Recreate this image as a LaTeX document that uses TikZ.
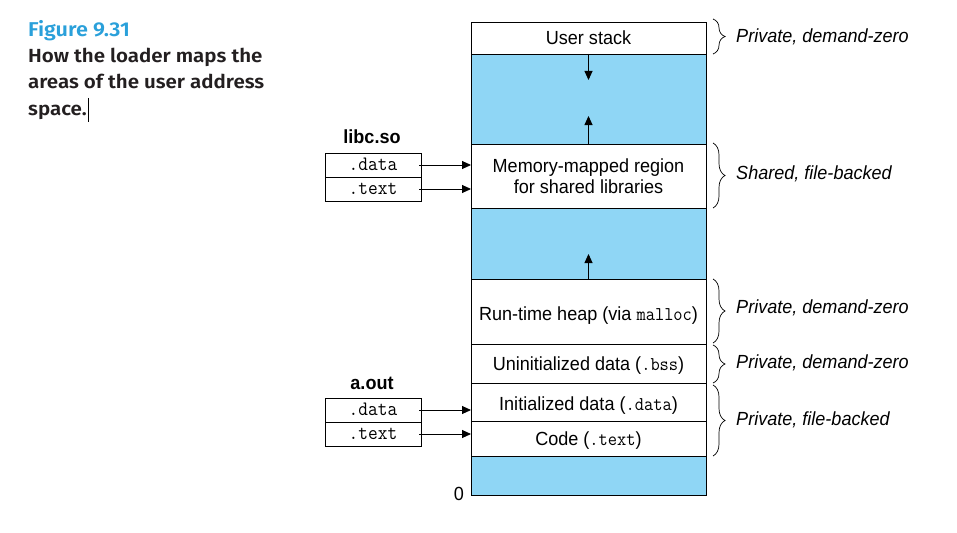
\documentclass[tikz,border=0pt]{standalone}
\usepackage{fontspec}
\setmainfont{Liberation Sans}[FakeStretch=0.95]
\setmonofont{Latin Modern Mono}[FakeStretch=0.92]
\newfontfamily\capfont{Fira Sans SemiBold}[FakeStretch=1.08]
\usetikzlibrary{arrows.meta,decorations.pathreplacing}
\definecolor{areablue}{HTML}{8FD6F5}
\definecolor{figblue}{HTML}{2AA0DA}
\definecolor{captext}{HTML}{231F20}
\newcommand{\lbl}{\fontsize{19}{21}\selectfont}
\newcommand{\mono}[1]{{\ttfamily\fontsize{19.5}{21}\selectfont #1}}
\newcommand{\boxmono}[1]{{\ttfamily\fontsize{20.5}{21}\selectfont #1}}
\begin{document}
\begin{tikzpicture}[x=1pt,y=-1pt,
  seg/.style={draw, line width=0.9pt, minimum width=235pt, inner sep=0pt, outer sep=0pt, anchor=north west, font=\lbl, align=center, text height=13.6pt, text depth=0pt},
  lowtext/.style={text height=17.6pt},
  freearea/.style={seg, fill=areablue},
  secbox/.style={draw, line width=0.9pt, minimum width=96pt, minimum height=24pt, inner sep=0pt, outer sep=0pt, anchor=north west, text height=10pt, text depth=0pt},
  arr/.style={line width=0.9pt, -{Triangle[length=9pt,width=8pt]}},
  brc/.style={decorate, decoration={brace, amplitude=12pt}, line width=0.7pt},
  note/.style={anchor=west, font=\lbl\itshape, inner sep=0pt},
  capline/.style={anchor=base west, inner sep=0pt, font=\capfont\fontsize{19}{26}\selectfont}
]
\useasboundingbox (0,0) rectangle (957,532);

% caption
\node[capline, text=figblue, font=\capfont\fontsize{20}{26}\selectfont] (cap1) at (28,37) {Figure 9.31};
\node[capline, text=captext] (cap2) at (28,63) {How the loader maps the};
\node[capline, text=captext] (cap3) at (28,89) {areas of the user address};
\node[capline, text=captext] (cap4) at (28,115) {space.};
\draw[line width=0.8pt] ([xshift=1pt]cap4.base east) ++(0,-17) -- ++(0,24);

% address space column
\node[seg, minimum height=32pt] (stack) at (471,22) {User stack};
\node[freearea, minimum height=90pt] (blue1) at (471,54) {};
\node[seg, minimum height=64pt, text height={}, text depth=0.5pt] (mmap) at (471,144) {Memory-mapped region\\for shared libraries};
\node[freearea, minimum height=71pt] (blue2) at (471,208) {};
\node[seg, lowtext, minimum height=65pt] (heap) at (471,279) {Run-time heap (via \mono{malloc})};
\node[seg, minimum height=39pt] (bss) at (471,344) {Uninitialized data (\mono{.bss})};
\node[seg, lowtext, minimum height=38pt] (init) at (471,383) {Initialized data (\mono{.data})};
\node[seg, minimum height=35pt] (code) at (471,421) {Code (\mono{.text})};
\node[freearea, minimum height=39pt] (blue3) at (471,456) {};
\node[font=\lbl, inner sep=0pt] (zero) at (459,494) {0};

% growth arrows
\coordinate (stackgrow) at (588.5,80);
\coordinate (mmapgrow) at (588.5,116);
\coordinate (heapgrow) at (588.5,254);
\draw[arr] (stack.south) -- (stackgrow);
\draw[arr] (mmap.north) -- (mmapgrow);
\draw[arr] (heap.north) -- (heapgrow);

% libc.so
\node[font=\lbl\bfseries] (libc) at (372,137) {libc.so};
\node[secbox] (ldata) at (325,153) {\boxmono{.data}};
\node[secbox] (ltext) at (325,177) {\boxmono{.text}};
\draw[arr] ([xshift=-2pt]ldata.east) -- (mmap.west |- ldata.east);
\draw[arr] ([xshift=-2pt]ltext.east) -- (mmap.west |- ltext.east);

% a.out
\node[font=\lbl\bfseries] (aout) at (372,383) {a.out};
\node[secbox] (adata) at (325,398) {\boxmono{.data}};
\node[secbox] (atext) at (325,422) {\boxmono{.text}};
\draw[arr] ([xshift=-2pt]adata.east) -- (init.west |- adata.east);
\draw[arr] ([xshift=-2pt]atext.east) -- (code.west |- atext.east);

% braces and notes
\coordinate (b1t) at (713,19);  \coordinate (b1b) at (713,54);
\coordinate (b2t) at (713,143); \coordinate (b2b) at (713,208);
\coordinate (b3t) at (713,279); \coordinate (b3b) at (713,343);
\coordinate (b4t) at (713,345); \coordinate (b4b) at (713,383);
\coordinate (b5t) at (713,385); \coordinate (b5b) at (713,456);
\draw[brc] (b1t) -- (b1b);
\draw[brc] (b2t) -- (b2b);
\draw[brc] (b3t) -- (b3b);
\draw[brc] (b4t) -- (b4b);
\draw[brc] (b5t) -- (b5b);
\node[note] (n1) at (736,37) {Private, demand-zero};
\node[note] (n2) at (736,174) {Shared, file-backed};
\node[note] (n3) at (736,308) {Private, demand-zero};
\node[note] (n4) at (736,363) {Private, demand-zero};
\node[note] (n5) at (736,420) {Private, file-backed};
\end{tikzpicture}
\end{document}
